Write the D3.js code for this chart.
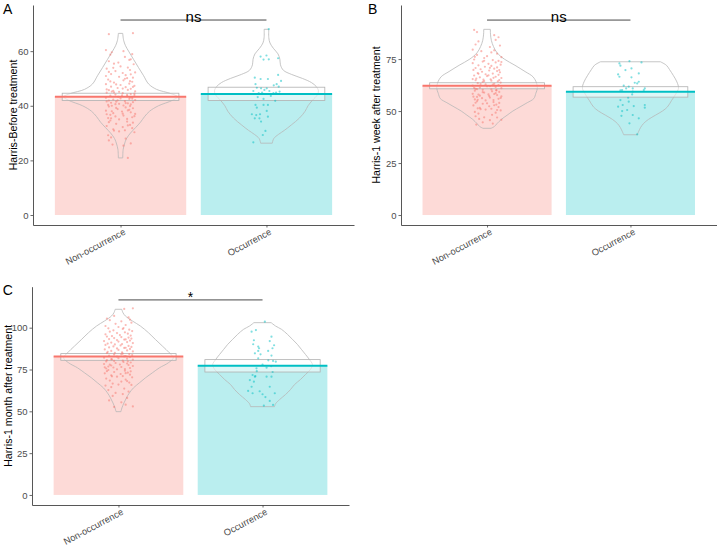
<!DOCTYPE html>
<html><head><meta charset="utf-8">
<script src="https://cdn.jsdelivr.net/npm/d3@7"></script>
<style>body{margin:0;background:#fff} svg text{font-family:"Liberation Sans",Arial,Helvetica,sans-serif}</style>
</head><body><svg id="c" width="720" height="551"></svg>
<script>
const categories = ["Non-occurrence","Occurrence"];
const colors = ["#F8766D","#00BFC4"];
const panelLetters = ["A","B","C"];
const yTitles = ["Harris-Before treatment","Harris-1 week after treatment","Harris-1 month after treatment"];
const yTicks = [[0,20,40,60],[0,25,50,75],[0,25,50,75,100]];
const yDomains = [[-3.66,76.9],[-4.8,101],[-6,124.5]];
const means = [[43.3,44.3],[62.2,59.3],[82.7,77.3]];
const boxLo = [[41.9,41.9],[60.7,56.7],[80.5,73.5]];
const boxHi = [[44.6,46.8],[63.6,61.7],[84.5,80.9]];
const sigLabels = ["ns","ns","*"];
const sigY = [71.4,93.75,116.6];

// violin outlines: [value, half width in category units]
const aNonViolin = [[66.5,0.015],[64,0.021],[62,0.034],[60,0.055],[57,0.089],[54,0.123],[51,0.158],[48,0.192],[46,0.247],[44.5,0.342],[43.3,0.39],[42,0.356],[40,0.26],[38,0.199],[36,0.164],[34,0.137],[32,0.103],[30,0.068],[28,0.041],[26,0.027],[24,0.018],[20.9,0.015]];
const aOccViolin = [[68,0.016],[65,0.016],[63,0.024],[61,0.048],[59,0.079],[57,0.092],[55,0.096],[53,0.116],[51.5,0.171],[50,0.247],[48.5,0.308],[47,0.342],[45.5,0.356],[44,0.349],[42,0.315],[40,0.285],[38,0.265],[35.5,0.226],[33,0.171],[31,0.123],[29.5,0.082],[28,0.05],[26.3,0.04]];
const bNonViolin = [[89.3,0.023],[87,0.024],[84,0.03],[81,0.045],[78,0.07],[75,0.12],[72,0.195],[69,0.265],[66.5,0.32],[63.5,0.345],[61,0.351],[58.5,0.34],[56,0.326],[54,0.28],[52,0.23],[50,0.18],[48,0.14],[46,0.1],[44,0.07],[42.5,0.05],[41.7,0.028]];
const bOccViolin = [[73.7,0.209],[72,0.251],[70,0.272],[67,0.3],[64,0.324],[61,0.335],[58,0.314],[55,0.286],[52,0.258],[50,0.223],[48,0.174],[46,0.126],[44,0.091],[42,0.07],[40,0.056],[38.6,0.047]];
const cNonViolin = [[111,0.023],[109,0.031],[107,0.048],[104,0.097],[101,0.152],[97,0.208],[93,0.256],[89,0.305],[85,0.353],[82,0.381],[79,0.346],[76,0.284],[73,0.235],[70,0.187],[67,0.145],[64,0.104],[61,0.076],[58,0.055],[55,0.038],[52,0.024],[49.8,0.017]];
const cOccViolin = [[103,0.06],[101,0.09],[99,0.132],[96,0.173],[93,0.208],[90,0.242],[87,0.27],[84,0.298],[81,0.325],[78,0.346],[75,0.332],[72,0.298],[69,0.263],[66,0.222],[63,0.194],[60,0.159],[57,0.118],[54.5,0.09],[52.8,0.083]];

// jittered points: [offset in category units, value]
const aNon = [[-0.08,66.2],[0.085,66.6],[-0.1,60.4],[-0.06,59.6],[0.02,60.0],[0.07,57.0],
[-0.07,58.7],[0.06,56.8],[-0.015,55.8],[0.09,55.2],[-0.08,56.3],[0.03,57.9],[-0.045,55.4],[0.08,58.9],
[-0.095,53.6],[0.0,54.4],[0.065,53.1],[-0.035,52.7],[0.1,52.2],[-0.065,51.6],[0.035,51.2],[-0.01,50.6],[0.085,50.3],[-0.1,50.9],[0.05,54.0],[-0.05,53.9],[0.015,52.0],[0.07,51.5],[-0.08,52.4],[0.045,50.1],
[-0.085,49.6],[0.02,49.3],[0.08,48.8],[-0.045,48.5],[0.06,48.1],[-0.1,47.9],[0.0,47.6],[0.095,47.3],[-0.065,47.0],[0.035,46.8],[-0.02,46.5],[0.07,46.2],[-0.095,46.0],[0.05,45.8],[-0.05,45.5],[0.1,45.3],[-0.01,45.1],[0.03,49.9],[-0.07,48.9],[0.085,46.9],[-0.03,47.8],[0.015,46.3],[-0.08,45.7],[0.065,49.0],[-0.06,45.2],
[-0.095,44.8],[0.015,44.6],[0.07,44.3],[-0.035,44.1],[0.095,43.9],[-0.07,43.7],[0.045,43.5],[-0.015,43.3],[0.08,43.1],[-0.1,42.9],[0.0,42.7],[0.06,42.5],[-0.05,42.3],[0.1,42.1],[-0.08,41.9],[0.03,41.7],[-0.03,41.5],[0.085,41.3],[-0.065,41.1],[0.05,40.9],[-0.01,40.7],[0.07,40.5],[-0.085,40.3],[0.02,40.1],[-0.045,44.9],[0.065,43.0],[-0.02,42.0],[0.035,41.0],[-0.06,40.0],[0.095,44.5],[-0.095,41.6],[0.01,43.8],[0.08,42.6],[-0.035,40.6],[0.045,44.0],
[-0.08,39.7],[0.035,39.4],[0.085,39.1],[-0.02,38.8],[0.06,38.5],[-0.1,38.2],[0.01,37.9],[0.07,37.6],[-0.05,37.3],[0.1,37.0],[-0.07,36.7],[0.02,36.4],[-0.035,36.1],[0.08,35.8],[-0.085,35.5],[0.045,35.2],[-0.01,35.0],[0.065,39.9],[-0.06,38.0],[0.095,36.2],[-0.03,39.2],[0.015,37.1],[-0.095,36.9],[0.05,38.3],[-0.065,35.4],
[-0.07,34.6],[0.045,34.2],[0.085,33.8],[-0.03,33.4],[0.065,33.0],[-0.095,32.6],[0.015,32.2],[0.08,31.8],[-0.05,31.4],[0.03,31.0],[-0.01,30.6],[0.095,30.3],[-0.08,34.0],[0.05,32.8],[-0.045,30.9],
[-0.085,29.2],[-0.065,28.4],[0.035,28.0],[-0.08,27.3],[0.07,26.2],[-0.055,25.8],[0.02,25.4],[0.05,20.9]];
const aOcc = [[0.016,68.1],[-0.04,58.0],[-0.02,56.9],[0.0,58.4],[0.016,57.0],[0.08,57.4],[-0.08,50.3],[-0.04,49.8],[0.01,49.8],[0.08,51.3],[0.07,47.9],[0.1,49.1],[-0.075,47.9],[-0.066,46.6],[-0.037,46.4],[-0.014,45.8],[0.002,46.4],[0.02,45.4],[-0.09,45.4],[-0.053,44.6],[-0.03,44.8],[0.048,44.6],[0.066,44.8],[0.09,45.2],[0.084,47.0],[0.06,41.8],[-0.075,40.3],[-0.02,40.3],[0.01,40.3],[-0.066,39.3],[0.002,38.1],[-0.1,36.9],[-0.07,36.6],[-0.044,36.9],[-0.08,35.4],[-0.048,35.4],[0.01,36.0],[-0.037,34.2],[-0.007,30.8],[-0.025,29.3],[-0.09,26.6],[0.03,43.6],[-0.06,43.2],[0.05,47.5],[-0.02,42.5]];
const bNon = [[-0.09,89.0],[-0.07,88.0],[0.05,86.5],[0.08,85.5],
[0.09,81.5],[-0.06,83.5],[-0.08,82.0],[0.02,80.8],[0.06,84.2],
[-0.1,79.5],[-0.04,78.8],[0.03,78.2],[0.07,77.6],[-0.07,77.0],[0.0,76.4],[0.1,75.9],[-0.02,75.5],[0.05,79.2],[-0.085,76.1],
[-0.09,74.8],[0.04,74.5],[0.08,74.1],[-0.03,73.8],[0.06,73.4],[-0.1,73.0],[0.01,72.7],[0.095,72.3],[-0.06,72.0],[0.03,71.7],[-0.015,71.3],[0.07,71.0],[-0.08,70.7],[0.05,70.4],[-0.045,70.1],[0.1,73.6],[-0.02,74.2],[0.02,70.8],
[-0.095,69.8],[0.015,69.5],[0.07,69.2],[-0.035,68.9],[0.09,68.6],[-0.065,68.3],[0.04,68.0],[-0.01,67.7],[0.08,67.4],[-0.09,67.1],[0.0,66.8],[0.06,66.5],[-0.05,66.2],[0.1,65.9],[-0.075,65.6],[0.025,65.3],[-0.025,65.1],[0.085,69.7],[-0.06,67.9],[0.045,66.0],[-0.1,65.4],[0.01,67.2],
[-0.08,64.8],[0.03,64.6],[0.075,64.3],[-0.03,64.0],[0.095,63.7],[-0.065,63.4],[0.05,63.1],[-0.01,62.8],[0.08,62.5],[-0.1,62.2],[0.0,61.9],[0.06,61.6],[-0.05,61.3],[0.1,61.0],[-0.08,60.7],[0.03,60.4],[-0.03,60.2],[0.085,64.9],[-0.045,63.0],[0.02,62.0],[-0.09,61.1],[0.065,60.1],[-0.02,64.4],[0.04,62.7],[-0.07,60.5],
[-0.085,59.8],[0.035,59.5],[0.085,59.2],[-0.02,58.9],[0.06,58.6],[-0.1,58.3],[0.01,58.0],[0.07,57.7],[-0.05,57.4],[0.1,57.1],[-0.07,56.8],[0.02,56.5],[-0.035,56.2],[0.08,55.9],[-0.085,55.6],[0.045,55.3],[-0.01,55.1],[0.065,59.9],[-0.06,57.9],[0.095,56.3],[-0.03,59.1],[0.015,57.2],[-0.095,56.9],[0.05,58.2],[-0.065,55.4],
[-0.07,54.7],[0.045,54.3],[0.085,53.9],[-0.03,53.5],[0.065,53.1],[-0.095,52.7],[0.015,52.3],[0.08,51.9],[-0.05,51.5],[0.03,51.1],[-0.01,50.7],[0.095,50.3],[-0.08,54.0],[0.05,52.8],[-0.045,50.9],[0.0,53.7],[0.07,50.5],[-0.065,51.3],
[-0.085,49.6],[-0.06,48.8],[0.035,48.2],[-0.08,47.5],[0.07,46.9],[-0.055,46.2],[0.02,45.6],[0.06,49.2],[-0.02,47.0],[0.1,45.8],
[-0.03,44.6],[0.04,44.0],[-0.075,43.5]];
const bOcc = [[-0.077,72.9],[-0.07,71.8],[-0.007,74.0],[0.077,73.4],[-0.035,69.7],[0.007,70.5],[-0.086,67.6],[-0.077,66.5],[0.007,66.2],[0.058,68.1],[0.03,63.6],[0.047,63.3],[0.058,64.1],[-0.047,62.2],[-0.03,60.9],[-0.012,61.7],[0.016,60.9],[-0.058,60.1],[0.016,59.3],[-0.07,60.0],[0.1,60.9],[0.093,60.1],[-0.016,56.4],[-0.012,54.5],[-0.086,52.1],[-0.054,52.9],[0.1,52.9],[0.1,51.6],[0.023,52.4],[-0.058,50.0],[-0.023,50.5],[-0.063,47.7],[0.016,48.1],[-0.007,44.1],[0.058,46.5],[0.047,38.8],[-0.07,55.3],[0.012,58.0]];
const cNon = [[0.04,111.2],[0.1,111.6],[-0.03,107.0],[-0.08,105.5],[0.07,106.2],
[-0.06,104.5],[0.02,103.8],[0.09,103.0],[-0.02,102.3],[0.05,101.6],[-0.09,101.0],[0.0,100.4],[0.08,104.8],
[-0.07,99.6],[0.03,99.2],[0.075,98.8],[-0.035,98.4],[0.095,98.0],[-0.06,97.6],[0.045,97.2],[-0.01,96.8],[0.065,96.4],[-0.09,96.0],[0.01,95.6],[0.085,95.3],[-0.045,95.0],[0.035,99.8],
[-0.08,94.7],[0.02,94.4],[0.07,94.1],[-0.03,93.8],[0.09,93.5],[-0.065,93.2],[0.04,92.9],[-0.01,92.6],[0.08,92.3],[-0.1,92.0],[0.0,91.7],[0.06,91.4],[-0.05,91.1],[0.1,90.8],[-0.075,90.5],[0.025,90.2],[-0.025,90.0],[0.05,93.0],
[-0.09,89.7],[0.015,89.4],[0.07,89.1],[-0.035,88.8],[0.09,88.5],[-0.065,88.2],[0.04,87.9],[-0.01,87.6],[0.08,87.3],[-0.095,87.0],[0.0,86.7],[0.06,86.4],[-0.05,86.1],[0.1,85.8],[-0.075,85.5],[0.025,85.2],[-0.025,85.0],[0.05,88.0],
[-0.08,84.8],[0.03,84.5],[0.075,84.2],[-0.03,83.9],[0.095,83.6],[-0.065,83.3],[0.05,83.0],[-0.01,82.7],[0.08,82.4],[-0.1,82.1],[0.0,81.8],[0.06,81.5],[-0.05,81.2],[0.1,80.9],[-0.08,80.6],[0.03,80.3],[-0.03,80.1],[0.04,82.9],[-0.045,81.0],[0.02,84.0],
[-0.085,79.8],[0.035,79.5],[0.085,79.2],[-0.02,78.9],[0.06,78.6],[-0.1,78.3],[0.01,78.0],[0.07,77.7],[-0.05,77.4],[0.1,77.1],[-0.07,76.8],[0.02,76.5],[-0.035,76.2],[0.08,75.9],[-0.085,75.6],[0.045,75.3],[-0.01,75.1],[0.065,79.9],[-0.06,77.9],[-0.095,76.3],
[-0.07,74.7],[0.045,74.3],[0.085,73.9],[-0.03,73.5],[0.065,73.1],[-0.095,72.7],[0.015,72.3],[0.08,71.9],[-0.05,71.5],[0.03,71.1],[-0.01,70.7],[0.095,70.3],[-0.08,74.0],[0.05,72.8],[-0.045,70.9],
[-0.085,69.6],[0.05,69.0],[-0.06,68.4],[0.02,67.8],[0.075,67.2],[-0.04,66.6],[0.0,66.0],[-0.09,65.4],[0.06,68.1],[0.09,65.8],
[-0.05,64.5],[0.04,63.6],[-0.07,62.7],[0.07,61.8],[-0.02,61.0],[0.03,60.3],
[-0.04,59.2],[0.06,58.0],[-0.065,56.5],[0.02,55.4],
[0.05,54.0],[-0.03,52.6],[0.1,52.9]];
const cOcc = [[0.016,103.6],[-0.046,98.6],[-0.076,97.6],[0.062,94.6],[0.05,92.0],[-0.065,90.1],[-0.03,88.7],[-0.024,87.7],[-0.03,86.1],[0.069,87.7],[0.039,86.1],[-0.053,84.7],[-0.014,84.1],[0.062,83.3],[-0.03,81.7],[0.073,80.1],[0.092,79.7],[-0.042,75.7],[0.028,76.1],[-0.069,71.7],[-0.053,70.7],[-0.088,68.7],[-0.06,67.7],[0.028,70.7],[0.062,70.7],[-0.076,64.7],[-0.1,62.2],[0.05,64.7],[0.0,60.2],[-0.069,60.8],[0.085,60.8],[0.05,56.2],[0.009,53.4],[0.073,53.8],[0.0,78.0],[-0.04,74.0],[0.06,77.0],[0.07,73.5],[-0.05,71.0],[0.02,58.5],[-0.02,62.0],[0.08,89.5],[-0.06,92.5],[0.04,80.5]];

const pointsData = [[aNon,aOcc],[bNon,bOcc],[cNon,cOcc]];
const violinData = [[aNonViolin,aOccViolin],[bNonViolin,bOccViolin],[cNonViolin,cOccViolin]];

// layout
const panels = [
  {left:33, right:354, top:5, bottom:225, titleX:13.3, letterX:3, letterY:13.5},
  {left:401, right:716.5, top:5, bottom:225, titleX:376, letterX:368, letterY:13.5},
  {left:32, right:349, top:286.7, bottom:505, titleX:7.5, letterX:2.7, letterY:294.5}
];

const svg = d3.select("#c");

panels.forEach((p,i)=>{
  const g = svg.append("g");
  const x = d3.scalePoint().domain(categories).range([p.left,p.right]).padding(0.6);
  const u = x.step();
  const y = d3.scaleLinear().domain(yDomains[i]).range([p.bottom,p.top]);

  // bars
  g.selectAll("rect.bar").data(categories).join("rect").attr("class","bar")
    .attr("x",c=>x(c)-0.45*u).attr("width",0.9*u)
    .attr("y",(c,k)=>y(means[i][k])).attr("height",(c,k)=>y(0)-y(means[i][k]))
    .attr("fill",(c,k)=>colors[k]).attr("fill-opacity",0.27);

  // violins
  categories.forEach((c,k)=>{
    const cx = x(c);
    const area = d3.area().curve(d3.curveCatmullRom.alpha(0.5))
      .y(d=>y(d[0])).x0(d=>cx-d[1]*u).x1(d=>cx+d[1]*u);
    g.append("path").attr("d",area(violinData[i][k]))
      .attr("fill","none").attr("stroke","#b8b8b8").attr("stroke-width",0.8);
  });

  // crossbar boxes
  g.selectAll("rect.box").data(categories).join("rect").attr("class","box")
    .attr("x",c=>x(c)-0.4*u).attr("width",0.8*u)
    .attr("y",(c,k)=>y(boxHi[i][k])).attr("height",(c,k)=>y(boxLo[i][k])-y(boxHi[i][k]))
    .attr("fill","#fff").attr("fill-opacity",0.5).attr("stroke","#b0b0b0").attr("stroke-width",0.8);

  // mean lines
  g.selectAll("line.mean").data(categories).join("line").attr("class","mean")
    .attr("x1",c=>x(c)-0.45*u).attr("x2",c=>x(c)+0.45*u)
    .attr("y1",(c,k)=>y(means[i][k])).attr("y2",(c,k)=>y(means[i][k]))
    .attr("stroke",(c,k)=>colors[k]).attr("stroke-width",2);

  // points
  categories.forEach((c,k)=>{
    g.append("g").selectAll("circle").data(pointsData[i][k]).join("circle")
      .attr("cx",d=>x(c)+d[0]*u).attr("cy",d=>y(d[1])).attr("r",1.1)
      .attr("fill",colors[k]).attr("fill-opacity",0.5);
  });

  // axes
  const ya = g.append("g").attr("transform",`translate(${p.left},0)`)
    .call(d3.axisLeft(y).tickValues(yTicks[i]).tickSize(2.5).tickSizeOuter(0).tickPadding(2));
  const xa = g.append("g").attr("transform",`translate(0,${p.bottom})`)
    .call(d3.axisBottom(x).tickSize(2.5).tickSizeOuter(0).tickFormat(""));
  [ya,xa].forEach(a=>{
    a.select(".domain").attr("stroke","#444").attr("stroke-width",0.9);
    a.selectAll(".tick line").attr("stroke","#444").attr("stroke-width",0.8);
  });
  ya.selectAll(".tick text").attr("font-size",9.5).attr("fill","#4d4d4d")
    .attr("font-family",'"Liberation Sans",Arial,sans-serif');

  // rotated category labels
  g.selectAll("text.xl").data(categories).join("text").attr("class","xl")
    .attr("transform",c=>`translate(${x(c)+2.5},${p.bottom+3}) rotate(-28)`)
    .attr("text-anchor","end").attr("dy","0.72em")
    .attr("font-size",9.3).attr("fill","#4d4d4d").text(c=>c);

  // y title
  g.append("text").attr("transform",`translate(${p.titleX},${(p.top+p.bottom)/2}) rotate(-90)`)
    .attr("text-anchor","middle").attr("dominant-baseline","central")
    .attr("font-size",10.6).attr("fill","#000").text(yTitles[i]);

  // panel letter
  g.append("text").attr("x",p.letterX).attr("y",p.letterY).attr("font-size",14).attr("fill","#000").text(panelLetters[i]);

  // significance bracket
  const sy = y(sigY[i]);
  g.append("line").attr("x1",x(categories[0])).attr("x2",x(categories[1]))
    .attr("y1",sy).attr("y2",sy).attr("stroke","#333").attr("stroke-width",0.9);
  g.append("text").attr("x",(x(categories[0])+x(categories[1]))/2).attr("y",sy+2)
    .attr("text-anchor","middle").attr("font-size",sigLabels[i]==="*"?14:15).attr("fill","#000").text(sigLabels[i]);
});
</script>
</body></html>
